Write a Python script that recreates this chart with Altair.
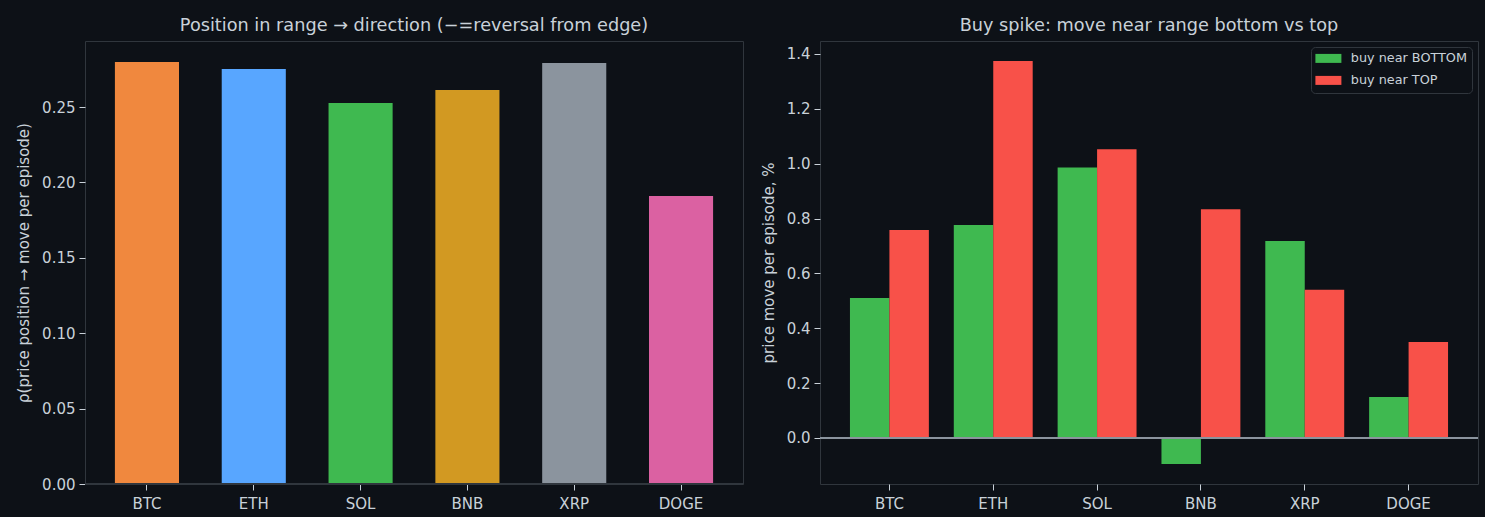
import altair as alt
import pandas as pd

coins = ["BTC", "ETH", "SOL", "BNB", "XRP", "DOGE"]
rho = [0.2798, 0.2752, 0.2527, 0.2613, 0.2792, 0.1910]
coin_colors = ["#f0883e", "#58a6ff", "#3fb950", "#d29922", "#8b949e", "#db61a2"]

series_names = ["buy near BOTTOM", "buy near TOP"]
series_colors = ["#3fb950", "#f85149"]
move_bottom = [0.510, 0.776, 0.986, -0.095, 0.718, 0.149]
move_top = [0.758, 1.374, 1.052, 0.834, 0.540, 0.350]

left_ticks = [0.0, 0.05, 0.10, 0.15, 0.20, 0.25]
right_ticks = [0.0, 0.2, 0.4, 0.6, 0.8, 1.0, 1.2, 1.4]

BG = "#0d1117"
EDGE = "#30363d"
TXT = "#c9d1d9"
ZERO = "#8b949e"

left_df = pd.DataFrame({"coin": coins, "rho": rho, "color": coin_colors})
right_df = pd.DataFrame({
    "coin": coins * 2,
    "series": [series_names[0]] * len(coins) + [series_names[1]] * len(coins),
    "move": move_bottom + move_top,
})

W, H = 658, 443

x_axis = alt.Axis(title=None, labelAngle=0, labelPadding=6)

left_y_scale = alt.Scale(domain=[0, 0.2938], nice=False, zero=False)
left_bars = alt.Chart(left_df).mark_bar().encode(
    x=alt.X("coin:N", sort=coins,
            scale=alt.Scale(paddingInner=0.4, paddingOuter=0.28),
            axis=x_axis),
    y=alt.Y("rho:Q", scale=left_y_scale,
            axis=alt.Axis(title="ρ(price position → move per episode)",
                          values=left_ticks, format=".2f")),
    color=alt.Color("color:N", scale=None, legend=None),
)
left_zero = alt.Chart(left_df).mark_rule(color=EDGE, strokeWidth=2).encode(
    y=alt.datum(0)
)
left = alt.layer(left_bars, left_zero).properties(
    width=W, height=H,
    title=alt.TitleParams("Position in range → direction (−=reversal from edge)", frame="group"),
)

right_y_scale = alt.Scale(domain=[-0.1677, 1.447], nice=False, zero=False)
right_bars = alt.Chart(right_df).mark_bar().encode(
    x=alt.X("coin:N", sort=coins,
            scale=alt.Scale(paddingInner=0.24, paddingOuter=0.2885),
            axis=x_axis),
    xOffset=alt.XOffset("series:N", sort=series_names,
                        scale=alt.Scale(paddingInner=0, paddingOuter=0)),
    y=alt.Y("move:Q", scale=right_y_scale,
            axis=alt.Axis(title="price move per episode, %",
                          values=right_ticks, format=".1f")),
    color=alt.Color("series:N", sort=series_names,
                    scale=alt.Scale(domain=series_names, range=series_colors),
                    legend=alt.Legend(
                        title=None, orient="top-right", offset=6,
                        fillColor=BG, strokeColor=EDGE, cornerRadius=4,
                        padding=5, rowPadding=8,
                        symbolType="M-2.167,-0.75H2.167V0.75H-2.167Z",
                        symbolSize=144, symbolStrokeWidth=0, symbolOpacity=1,
                        symbolOffset=6, labelOffset=16,
                        labelColor=TXT, labelFontSize=12.8,
                    )),
)
right_zero = alt.Chart(right_df).mark_rule(color=ZERO, strokeWidth=2).encode(
    y=alt.datum(0)
)
right = alt.layer(right_bars, right_zero).properties(
    width=W, height=H,
    title=alt.TitleParams("Buy spike: move near range bottom vs top", frame="group"),
)

chart = alt.hconcat(left, right, spacing=15).resolve_scale(
    color="independent"
).resolve_legend(
    color="independent"
).properties(
    background=BG,
    padding={"left": 16, "top": 16, "right": 5, "bottom": 5},
).configure(
    font="DejaVu Sans",
).configure_view(
    stroke=EDGE, strokeWidth=1, fill=BG,
).configure_axis(
    domain=False, grid=False,
    tickColor=TXT, tickSize=6, tickWidth=1,
    labelColor=TXT, labelFontSize=15, labelPadding=4,
    titleColor=TXT, titleFontSize=15, titleFontWeight="normal", titlePadding=10,
).configure_title(
    color=TXT, fontSize=17.7, fontWeight="normal", offset=6, anchor="middle",
).configure_bar(
    strokeWidth=0,
)

chart.save("out.html", embed_options={"renderer": "svg", "actions": False})
